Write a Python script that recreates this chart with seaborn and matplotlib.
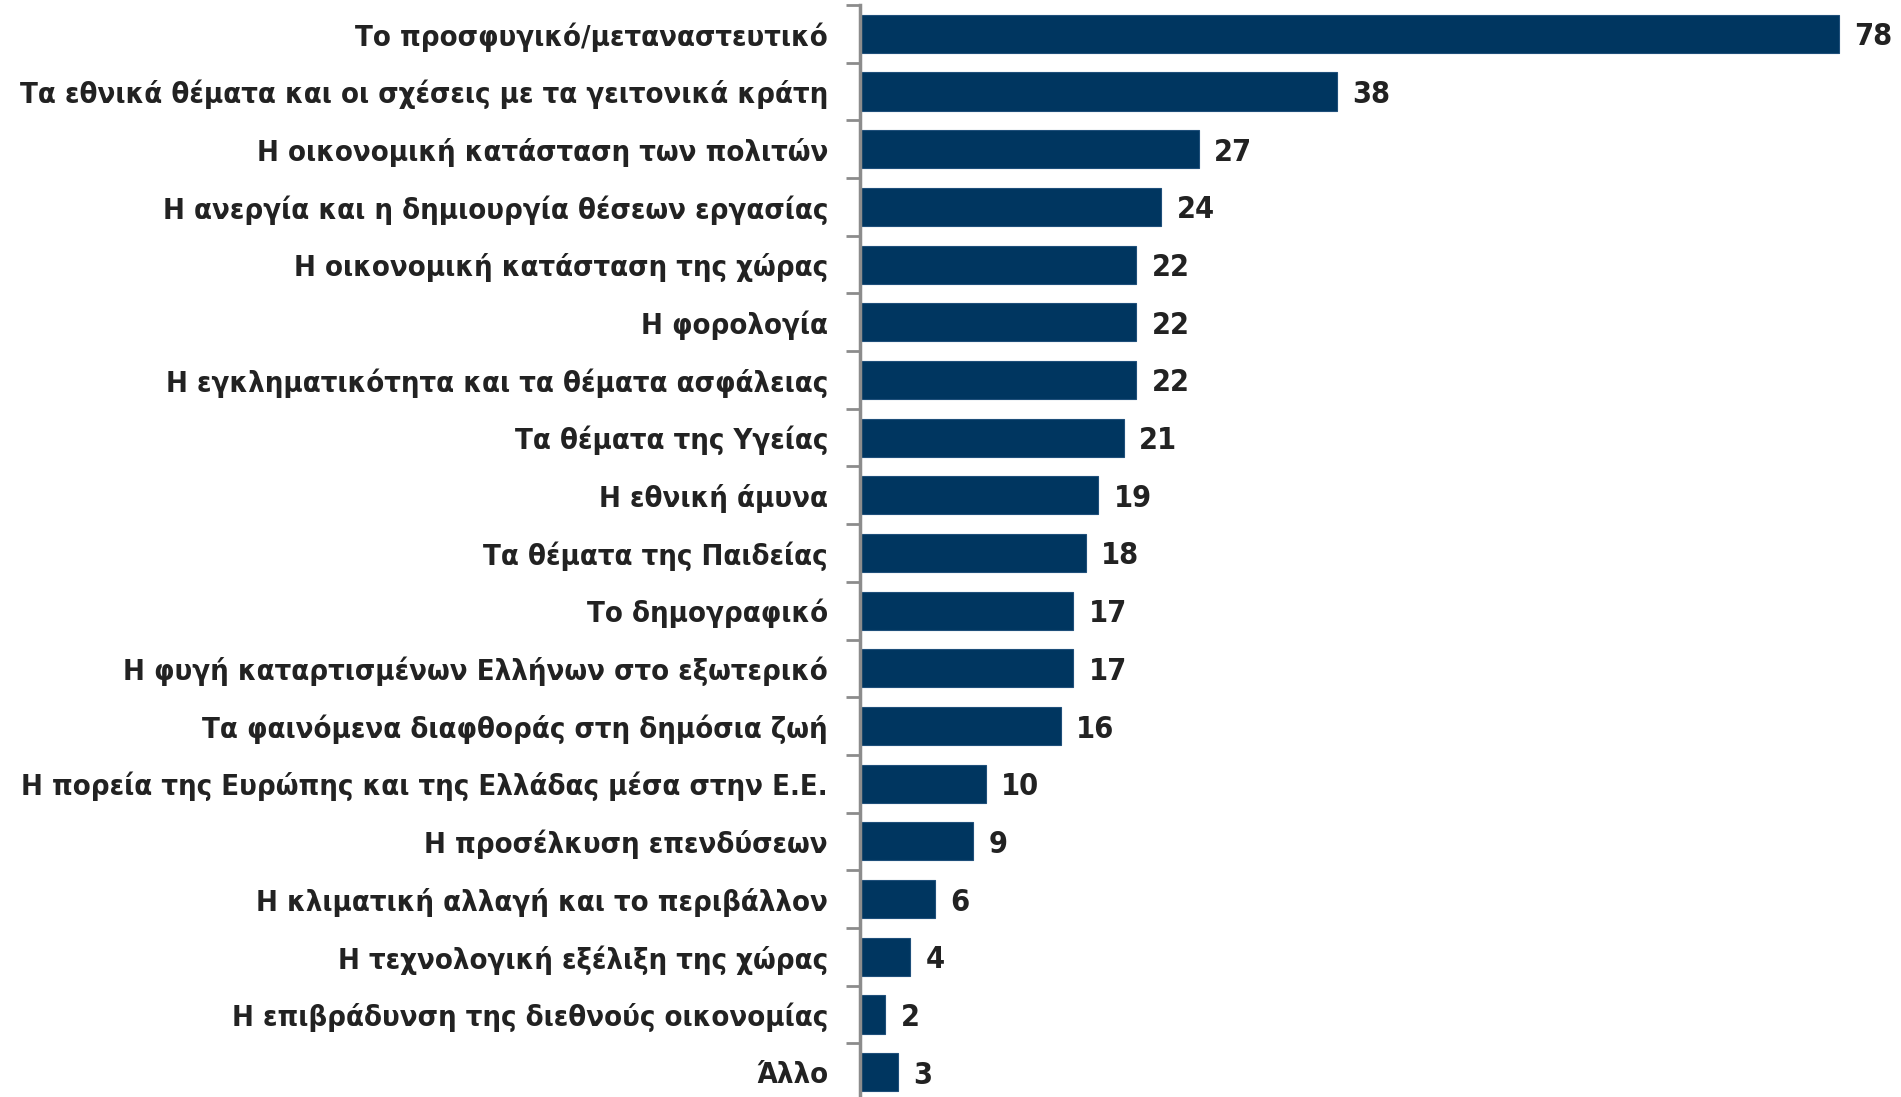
import matplotlib
matplotlib.use('Agg')
import numpy as np
import pandas as pd
import matplotlib.pyplot as plt
import seaborn as sns


# ── Data ─────────────────────────────────────────────────────
issues = [
    'Το προσφυγικό/μεταναστευτικό',
    'Τα εθνικά θέματα και οι σχέσεις με τα γειτονικά κράτη',
    'Η οικονομική κατάσταση των πολιτών',
    'Η ανεργία και η δημιουργία θέσεων εργασίας',
    'Η οικονομική κατάσταση της χώρας',
    'Η φορολογία',
    'Η εγκληματικότητα και τα θέματα ασφάλειας',
    'Τα θέματα της Υγείας',
    'Η εθνική άμυνα',
    'Τα θέματα της Παιδείας',
    'Το δημογραφικό',
    'Η φυγή καταρτισμένων Ελλήνων στο εξωτερικό',
    'Τα φαινόμενα διαφθοράς στη δημόσια ζωή',
    'Η πορεία της Ευρώπης και της Ελλάδας μέσα στην Ε.Ε.',
    'Η προσέλκυση επενδύσεων',
    'Η κλιματική αλλαγή και το περιβάλλον',
    'Η τεχνολογική εξέλιξη της χώρας',
    'Η επιβράδυνση της διεθνούς οικονομίας',
    'Άλλο',
]
percent = [78, 38, 27, 24, 22, 22, 22, 21, 19, 18, 17, 17, 16, 10, 9, 6, 4, 2, 3]

BAR_COLOR = '#003660'
TEXT_COLOR = '#222222'
AXIS_COLOR = '#8c8c8c'


def main():
    sns.set_style('white')
    plt.rcParams['font.family'] = ['DejaVu Sans']
    plt.rcParams['font.stretch'] = 'condensed'
    plt.rcParams['font.weight'] = 'bold'

    df = pd.DataFrame({'issue': issues, 'percent': percent})

    fig = plt.figure(figsize=(19.01, 10.97), dpi=100)
    ax = fig.add_axes([860 / 1901, -4 / 1097, 1041 / 1901, 1096 / 1097])

    sns.barplot(data=df, y='issue', x='percent', orient='h',
                color=BAR_COLOR, width=0.66, saturation=1,
                edgecolor='#1f4f7a', linewidth=0.8, ax=ax)

    ax.set_xlim(0, 1041 / 12.55)
    ax.set_ylim(len(issues) - 0.5, -0.5)

    # Value labels next to bars
    value_labels = ax.bar_label(ax.containers[0], labels=[str(v) for v in percent],
                                padding=11, fontsize=22, fontweight='bold',
                                fontstretch='condensed', color=TEXT_COLOR)
    for t in value_labels:
        t.set_va('center_baseline')

    # Category labels, ticks sit between categories
    ax.set_yticks(range(len(issues)))
    ax.set_yticklabels(issues, fontsize=21, fontweight='bold',
                       fontstretch='condensed', color=TEXT_COLOR,
                       va='center_baseline')
    ax.tick_params(axis='y', which='major', left=False, length=0, pad=23)
    ax.set_yticks(np.arange(-0.5, len(issues), 1), minor=True)
    ax.tick_params(axis='y', which='minor', left=True, length=10,
                   width=2, color=AXIS_COLOR)

    ax.set_xticks([])
    ax.set_xlabel('')
    ax.set_ylabel('')

    for side in ['top', 'right', 'bottom']:
        ax.spines[side].set_visible(False)
    ax.spines['left'].set_color(AXIS_COLOR)
    ax.spines['left'].set_linewidth(2.5)

    fig.savefig('out.png', dpi=100)
    plt.close(fig)


if __name__ == '__main__':
    main()
